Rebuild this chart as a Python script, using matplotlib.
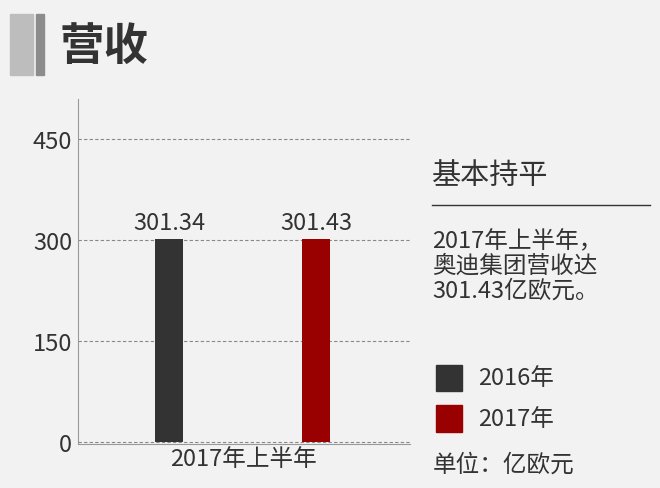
import matplotlib.pyplot as plt
from matplotlib.patches import Rectangle

plt.rcParams['font.family'] = ['Noto Sans CJK SC', 'DejaVu Sans']

years = ['2016年', '2017年']
values = [301.34, 301.43]
colors = ['#333333', '#990000']
yticks = [0, 150, 300, 450]

fig = plt.figure(figsize=(6.6, 4.89), dpi=100, facecolor='#f2f2f2')

# title block
fig.patches.append(Rectangle((0.015, 0.845), 0.035, 0.125, transform=fig.transFigure, color='#bdbdbd'))
fig.patches.append(Rectangle((0.055, 0.845), 0.012, 0.125, transform=fig.transFigure, color='#8c8c8c'))
fig.text(0.09, 0.905, '营收', fontsize=32, fontweight='bold', va='center', color='#333333')

ax = fig.add_axes([0.118, 0.09, 0.503, 0.705])
ax.set_facecolor('#f2f2f2')
for i, (v, c) in enumerate(zip(values, colors)):
    ax.bar(i, v, width=0.19, color=c, zorder=3)
    ax.text(i, v + 8, f'{v:.2f}', ha='center', va='bottom', fontsize=17, color='#333333')
ax.set_xlim(-0.619, 1.638)
ax.set_ylim(-3, 509)
ax.set_yticks(yticks)
ax.set_yticklabels([str(t) for t in yticks], fontsize=17, color='#333333')
ax.set_xticks([])
ax.grid(axis='y', linestyle=(0, (3, 2)), color='#888888', linewidth=0.8, zorder=0)
for s in ['top', 'right']:
    ax.spines[s].set_visible(False)
ax.spines['left'].set_color('#999999')
ax.spines['bottom'].set_color('#999999')
ax.tick_params(axis='y', length=0, pad=4)
ax.text(0.5, -0.01, '2017年上半年', transform=ax.transAxes, ha='center', va='top', fontsize=17, color='#333333')

# right panel
fig.text(0.655, 0.64, '基本持平', fontsize=21, color='#333333', va='center')
fig.lines.append(plt.Line2D([0.655, 0.985], [0.578, 0.578], transform=fig.transFigure, color='#333333', linewidth=1))
fig.text(0.655, 0.455, '2017年上半年，\n奥迪集团营收达\n301.43亿欧元。', fontsize=17, color='#333333',
         va='center', linespacing=1.1)
for i, (y, c) in enumerate(zip(years, colors)):
    yy = 0.225 - i * 0.083
    fig.patches.append(Rectangle((0.66, yy - 0.027), 0.04, 0.054, transform=fig.transFigure, color=c))
    fig.text(0.725, yy, y, fontsize=17, color='#333333', va='center')
fig.text(0.655, 0.048, '单位：亿欧元', fontsize=17, color='#333333', va='center')

fig.savefig('out.png', dpi=100, facecolor=fig.get_facecolor())
